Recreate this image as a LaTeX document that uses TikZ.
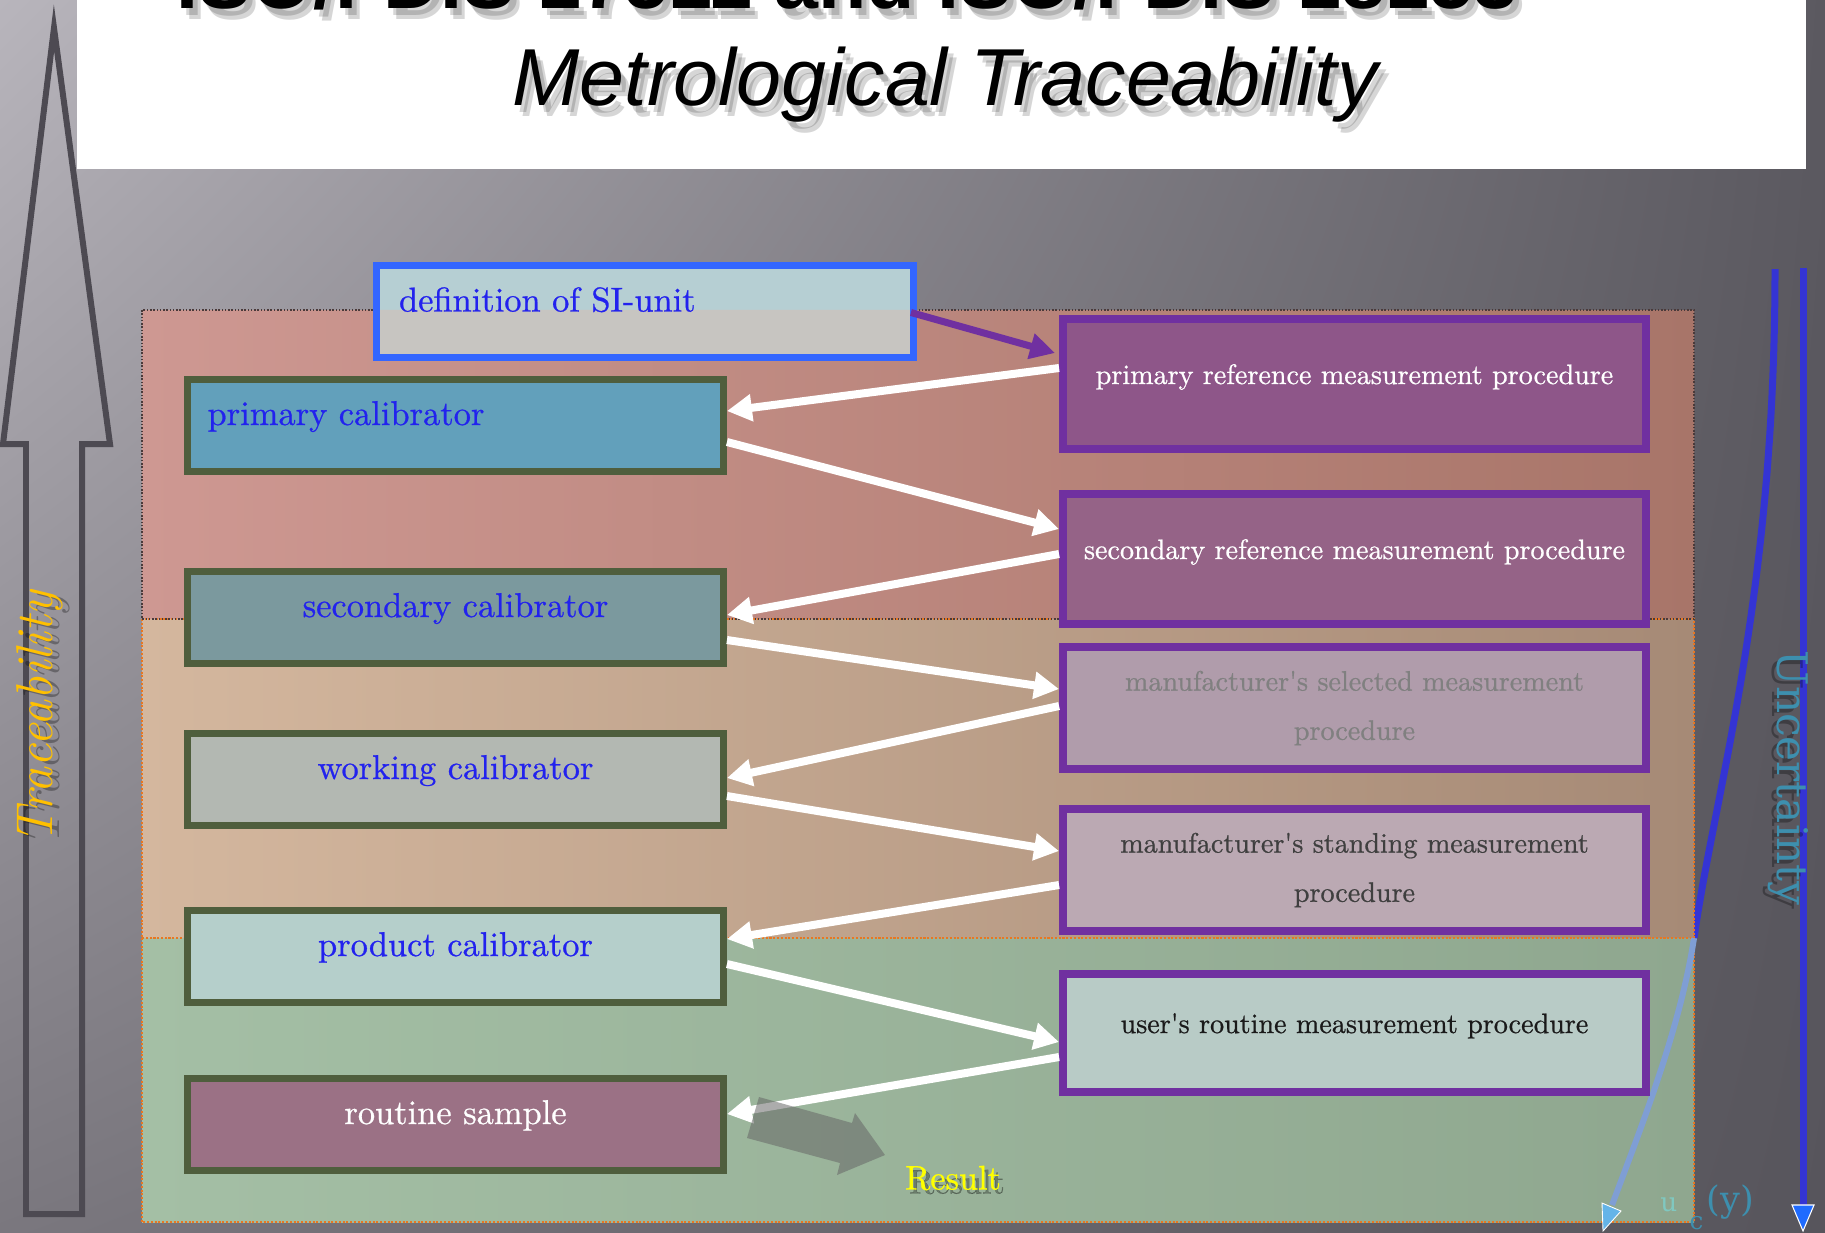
\documentclass[tikz,border=0pt]{standalone}
\usepackage{fontspec}
\newfontfamily\headfont{Liberation Sans}
\newfontfamily\slabfont{DejaVu Serif}
\newfontfamily\boxfont{lmroman10-regular.otf}[FakeBold=0.7]
\usetikzlibrary{arrows.meta,calc,shadings}

% palette
\definecolor{bgUL}{HTML}{B8B5BC}
\definecolor{bgUR}{HTML}{5B5960}
\definecolor{bgLL}{HTML}{7A777E}
\definecolor{bgLR}{HTML}{57555C}
\definecolor{outlinegray}{HTML}{4D4A52}
\definecolor{traceyellow}{HTML}{FFC000}
\definecolor{resultyellow}{HTML}{FFFF00}
\definecolor{bandRedL}{HTML}{CE9892}
\definecolor{bandRedR}{HTML}{A87569}
\definecolor{bandTanL}{HTML}{D4B79E}
\definecolor{bandTanR}{HTML}{A68A76}
\definecolor{bandGrnL}{HTML}{A4BFA5}
\definecolor{bandGrnR}{HTML}{8FA78F}
\definecolor{bandDark}{HTML}{4A3A3A}
\definecolor{bandOrange}{HTML}{E87722}
\definecolor{siblue}{HTML}{3366FF}
\definecolor{siHigh}{HTML}{B6CFD3}
\definecolor{siLow}{HTML}{C7C5C1}
\definecolor{calEdge}{HTML}{4F5E3D}
\definecolor{calText}{HTML}{2222EE}
\definecolor{pcalFill}{HTML}{62A0BB}
\definecolor{scalFill}{HTML}{7B999E}
\definecolor{wcalFill}{HTML}{B3B8B2}
\definecolor{prcalFill}{HTML}{B5CFCB}
\definecolor{sampleFill}{HTML}{9B7185}
\definecolor{procEdge}{HTML}{7030A0}
\definecolor{prpFill}{HTML}{8E5689}
\definecolor{srpFill}{HTML}{956387}
\definecolor{selFill}{HTML}{B09CAB}
\definecolor{stdFill}{HTML}{BBA9B3}
\definecolor{usrFill}{HTML}{B8CBC6}
\definecolor{selText}{HTML}{808080}
\definecolor{stdText}{HTML}{3F3F3F}
\definecolor{usrText}{HTML}{1A1A1A}
\definecolor{blockgray}{HTML}{666666}
\definecolor{uncBlue}{HTML}{3434D4}
\definecolor{uncPale}{HTML}{7F9ED4}
\definecolor{uncTip}{HTML}{64B4E8}
\definecolor{downTip}{HTML}{1F6BFF}
\definecolor{uncTeal}{HTML}{3D8FAE}
\definecolor{ucPale}{HTML}{80C8C0}

% two-tone fill of the SI-unit box (lower grey, upper bluish)
\pgfdeclareverticalshading{sisplit}{100bp}{color(0bp)=(siLow); color(51.2bp)=(siLow); color(51.4bp)=(siHigh); color(100bp)=(siHigh)}

\begin{document}
\begin{tikzpicture}[x=0.02cm, y=-0.02cm,
  calbox/.style={draw=calEdge, line width=0.14cm, minimum width=10.72cm,
    minimum height=1.84cm, text=calText,
    font=\boxfont\fontsize{19.6}{23}\selectfont, text height=0.4cm, text depth=0.4cm},
  procbox/.style={draw=procEdge, line width=0.16cm, minimum width=11.66cm,
    font=\boxfont\fontsize{16}{28}\selectfont, align=center},
  oneline/.style={text height=0.32cm, text depth=0.32cm},
  flowarrow/.style={draw=white, line width=0.16cm,
    -{Triangle[length=0.5cm,width=0.52cm]}},
  shadowtext/.style={text=black, text opacity=0.3},
  softshadow/.style={text=black, text opacity=0.16},
]
\useasboundingbox (0,0) rectangle (1825,1232);

% backdrop
\shade[upper left=bgUL, upper right=bgUR, lower left=bgLL, lower right=bgLR]
  (0,0) rectangle (1825,1232);

% title panel
\fill[white] (77,0) rectangle (1806,169);
\begin{scope}
  \clip (77,0) rectangle (1806,169);
  \foreach \dx/\dy in {5/7,8/11}{
    \node[softshadow, anchor=base, font=\headfont\bfseries\fontsize{45}{50}\selectfont]
      at (847+\dx,8+\dy) {ISO/FDIS 17511 and ISO/FDIS 18153};
    \node[softshadow, anchor=base, font=\headfont\itshape\fontsize{46}{50}\selectfont]
      at (945+\dx,105+\dy) {Metrological Traceability};
  }
  \node[anchor=base, font=\headfont\bfseries\fontsize{45}{50}\selectfont] (std1)
    at (847,8) {ISO/FDIS 17511 and ISO/FDIS 18153};
  \node[anchor=base, font=\headfont\itshape\fontsize{46}{50}\selectfont] (title)
    at (945,105) {Metrological Traceability};
\end{scope}

% traceability outline arrow
\draw[outlinegray, line width=0.12cm, line join=miter]
  (26,1214) -- (26,444) -- (3,444) -- (54,28) -- (110,444) -- (82,444)
  -- (82,1214) -- cycle;
\node[shadowtext, rotate=90, font=\itshape\fontsize{29.5}{32}\selectfont] at (47,721) {Traceability};
\node[rotate=90, text=traceyellow, font=\itshape\fontsize{29.5}{32}\selectfont] (trace) at (40,718) {Traceability};

% uncertainty curve (drawn below the bands)
\draw[uncBlue, line width=0.14cm] (1775,269) .. controls (1775,600) and (1715,790) .. (1694,938);

% hierarchy bands
\shade[left color=bandRedL, right color=bandRedR] (142,310) rectangle (1694,619);
\shade[left color=bandTanL, right color=bandTanR] (142,619) rectangle (1694,938);
\shade[left color=bandGrnL, right color=bandGrnR] (142,938) rectangle (1694,1222);
\draw[bandOrange, densely dotted, line width=0.04cm] (142,619) rectangle (1694,938);
\draw[bandOrange, densely dotted, line width=0.04cm] (142,938) rectangle (1694,1222);
\draw[bandDark, densely dotted, line width=0.03cm] (142,310) rectangle (1694,619);

% lower part of the uncertainty curve and its tip
\draw[uncPale, line width=0.12cm] (1694,938) .. controls (1680,1030) and (1640,1130) .. (1612,1205);
\filldraw[fill=uncTip, draw=white, line width=0.5pt] (1602,1203) -- (1621,1211) -- (1603,1231) -- cycle;

% straight uncertainty axis
\draw[uncBlue, line width=0.14cm] (1803,268) -- (1803,1206);
\filldraw[fill=downTip, draw=white, line width=0.6pt] (1792,1205) -- (1814,1205) -- (1803,1231) -- cycle;

% calibrators
\node[calbox, draw=siblue, shade, shading=sisplit, minimum width=10.74cm,
  align=left, text width=9.84cm, inner xsep=0.45cm] (si) at (645,311.5) {definition of SI-unit};
\node[calbox, fill=pcalFill, align=left, text width=9.92cm, inner xsep=0.4cm] (pcal) at (455.5,425) {primary calibrator};
\node[calbox, fill=scalFill] (scal) at (455.5,617) {secondary calibrator};
\node[calbox, fill=wcalFill] (wcal) at (455.5,779) {working calibrator};
\node[calbox, fill=prcalFill] (prcal) at (455.5,956) {product calibrator};
\node[calbox, fill=sampleFill, text=white] (sample) at (455.5,1124) {routine sample};

% measurement procedures
\node[procbox, oneline, fill=prpFill, text=white, minimum height=2.6cm] (prp) at (1354.5,384) {primary reference measurement procedure};
\node[procbox, oneline, fill=srpFill, text=white, minimum height=2.6cm] (srp) at (1354.5,559) {secondary reference measurement procedure};
\node[procbox, fill=selFill, text=selText, minimum height=2.44cm] (sel) at (1354.5,708) {manufacturer\textquotesingle s selected measurement\\procedure};
\node[procbox, fill=stdFill, text=stdText, minimum height=2.44cm] (std) at (1354.5,870) {manufacturer\textquotesingle s standing measurement\\procedure};
\node[procbox, oneline, fill=usrFill, text=usrText, minimum height=2.36cm] (usr) at (1354.5,1033) {user\textquotesingle s routine measurement procedure};

% calibration chain
\draw[procEdge, line width=0.14cm, -{Triangle[length=0.5cm,width=0.5cm]}]
  ($(si.east)+(-6,1)$) -- ($(prp.west)+(-4,-31)$);
\draw[flowarrow] ($(prp.west)+(0,-16)$) -- ($(pcal.east)+(0,-14)$);
\draw[flowarrow] ($(pcal.east)+(0,17)$) -- ($(srp.west)+(0,-30)$);
\draw[flowarrow] ($(srp.west)+(0,-5)$) -- ($(scal.east)+(0,-2)$);
\draw[flowarrow] ($(scal.east)+(0,23)$) -- ($(sel.west)+(0,-19)$);
\draw[flowarrow] ($(sel.west)+(0,-2)$) -- ($(wcal.east)+(0,-1)$);
\draw[flowarrow] ($(wcal.east)+(0,17)$) -- ($(std.west)+(0,-19)$);
\draw[flowarrow] ($(std.west)+(0,15)$) -- ($(prcal.east)+(0,-17)$);
\draw[flowarrow] ($(prcal.east)+(0,8)$) -- ($(usr.west)+(0,9)$);
\draw[flowarrow] ($(usr.west)+(0,24)$) -- ($(sample.east)+(0,-10)$);

% result block arrow
\fill[blockgray, fill opacity=0.54] (759,1097) -- (852,1123) -- (855,1113) -- (885,1155)
  -- (837,1175) -- (840,1163) -- (747,1138) -- cycle;
\node[shadowtext, font=\boxfont\fontsize{19.5}{22}\selectfont] at (957,1182) {Result};
\node[text=resultyellow, font=\boxfont\fontsize{19.5}{22}\selectfont] (res) at (953,1178) {Result};

% uncertainty labels
\node[shadowtext, rotate=-90, font=\slabfont\fontsize{24}{26}\selectfont] at (1783,782) {Uncertainty};
\node[rotate=-90, text=uncTeal, font=\slabfont\fontsize{24}{26}\selectfont] (unc) at (1788,778) {Uncertainty};
\node[anchor=base west, inner sep=0pt, text=uncTeal, font=\slabfont\fontsize{20}{22}\selectfont] (uc)
  at (1660,1211) {{\fontsize{15}{16}\selectfont\color{ucPale}u}\hspace{7pt}\raisebox{-10.5pt}{\fontsize{14}{16}\selectfont c}\hspace{2pt}(y)};
\end{tikzpicture}
\end{document}
